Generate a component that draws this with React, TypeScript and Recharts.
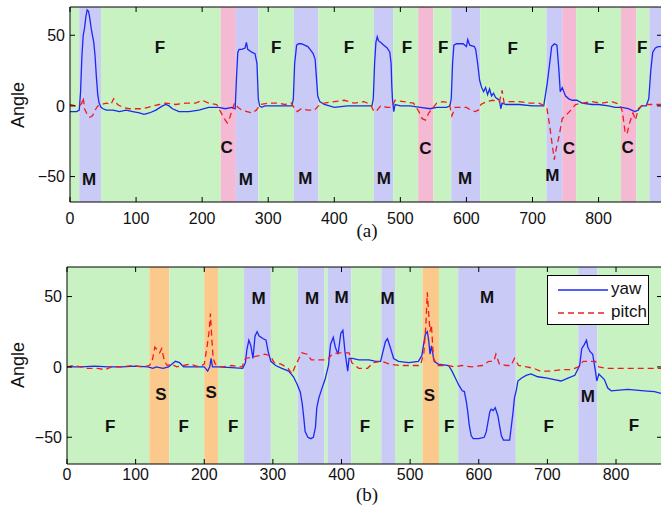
import React from 'react';
import { LineChart, Line, XAxis, YAxis, ReferenceArea, ReferenceDot } from 'recharts';

type Pt = [number, number];
type Band = [number, number, string];
type Tag = [number, number, string];

// ---- panel (a) ----
const topXMax = 896;
const topYDomain: [number, number] = [-68, 70];

const topBands: Band[] = [
  [0, 14, 'F'], [14, 47, 'M'], [47, 228, 'F'], [228, 251, 'C'], [251, 285, 'M'],
  [285, 339, 'F'], [339, 376, 'M'], [376, 460, 'F'], [460, 489, 'M'], [489, 527, 'F'],
  [527, 550, 'C'], [550, 577, 'F'], [577, 621, 'M'], [621, 721, 'F'], [721, 745, 'M'],
  [745, 766, 'C'], [766, 834, 'F'], [834, 857, 'C'], [857, 877, 'F'], [877, 896, 'M'],
];

const topTags: Tag[] = [
  [136, 42, 'F'], [29, -52, 'M'], [237, -29, 'C'], [266, -52, 'M'], [312, 42, 'F'],
  [356, -51, 'M'], [422, 42, 'F'], [475, -51, 'M'], [510, 42, 'F'], [538, -30, 'C'],
  [565, 42, 'F'], [598, -51, 'M'], [670, 41, 'F'], [730, -49, 'M'], [755, -30, 'C'],
  [801, 42, 'F'], [844, -29, 'C'], [866, 42, 'F'],
];

const topYaw: Pt[] = [
  [0, -4], [10, -4], [14, -3], [16, 10], [18, 35], [20, 50], [22, 55], [24, 63], [26, 68], [28, 67],
  [30, 62], [32, 55], [34, 50], [36, 45], [38, 35], [40, 20], [42, 8], [44, 2], [47, -1], [50, -2],
  [55, -3], [65, -3], [75, -4], [85, -3], [95, -4], [105, -5], [112, -6], [120, -5], [130, -3], [140, 0],
  [145, 1], [150, 0], [155, -2], [165, -4], [180, -4], [195, -3], [210, -1], [225, -1], [235, -2], [245, -1],
  [250, -2], [252, 20], [254, 38], [256, 40], [260, 40], [265, 41], [267, 45], [269, 40], [275, 38], [280, 37],
  [283, 30], [285, 5], [287, 0], [290, -1], [295, 0], [310, 0], [325, 0], [336, 0], [338, 5], [340, 30],
  [343, 43], [346, 44], [350, 44], [355, 43], [360, 42], [365, 39], [368, 37], [371, 33], [373, 20], [375, 7],
  [378, 3], [385, 1], [400, -1], [420, 0], [440, 0], [457, 0], [459, 5], [461, 30], [463, 45], [465, 49],
  [467, 46], [470, 45], [475, 43], [480, 41], [484, 38], [486, 30], [487, 15], [488, 5], [490, -4], [492, 1],
  [500, 0], [515, 0], [530, -1], [545, -2], [555, -1], [570, -1], [575, 0], [577, 5], [579, 30], [581, 43],
  [585, 44], [590, 44], [595, 44], [600, 42], [602, 47], [605, 43], [612, 42], [614, 40], [617, 30], [620, 18],
  [623, 13], [626, 10], [629, 13], [632, 8], [635, 12], [638, 7], [641, 9], [644, 6], [647, 5], [650, 4],
  [652, -2], [654, 2], [660, 1], [680, 1], [700, 0], [717, 0], [722, 15], [726, 30], [729, 42], [733, 44],
  [737, 43], [740, 25], [742, 10], [745, 13], [750, 7], [755, 5], [760, 4], [767, 4], [775, 2], [790, 1],
  [800, 1], [815, 0], [825, -1], [835, -1], [845, -2], [855, -4], [860, -3], [865, 0], [872, 0], [876, 5],
  [879, 25], [882, 38], [886, 41], [890, 42], [896, 42],
];

const topPitch: Pt[] = [
  [0, 1], [8, 0], [14, 0], [18, 2], [20, 6], [22, -2], [26, -6], [30, -8], [34, -7], [38, -3],
  [42, 0], [48, 1], [55, 2], [62, 1], [66, 5], [72, 1], [80, -1], [90, -2], [100, -2], [110, -2],
  [118, -1], [125, 0], [135, 1], [145, 2], [160, 1], [175, 2], [190, 2], [200, 4], [210, 2], [222, 1],
  [230, -6], [235, -10], [238, -12], [242, -8], [246, -2], [249, 2], [254, -1], [260, -3], [268, -4], [275, -5],
  [282, -3], [288, 1], [300, 2], [315, 2], [325, 1], [335, 2], [340, -2], [344, -4], [350, -2], [360, -3],
  [370, -3], [376, 0], [385, 2], [400, 3], [415, 4], [430, 2], [445, 3], [455, 1], [460, -4], [465, -3],
  [470, 0], [480, -1], [487, -1], [492, 4], [505, 3], [520, 2], [528, -4], [533, -9], [538, -10], [543, -5],
  [548, -2], [555, 2], [565, 3], [574, 2], [578, -7], [583, -1], [590, -1], [600, -1], [607, -3], [613, -4],
  [618, -3], [622, 1], [630, 3], [640, 4], [650, 3], [654, 11], [657, 2], [665, 3], [680, 3], [695, 2],
  [710, 2], [718, 0], [722, -2], [726, -14], [730, -28], [733, -38], [736, -30], [740, -22], [745, -9], [752, -6],
  [758, -3], [765, 1], [775, 2], [790, 3], [805, 2], [820, 3], [832, 1], [836, -4], [840, -18], [843, -20],
  [847, -12], [852, -5], [856, -10], [860, -2], [868, 1], [880, 1], [896, 1],
];

// ---- panel (b) ----
const botXMax = 867;
const botYDomain: [number, number] = [-69, 71];

const botBands: Band[] = [
  [0, 120, 'F'], [120, 149, 'S'], [149, 200, 'F'], [200, 220, 'S'], [220, 258, 'F'],
  [258, 297, 'M'], [297, 336, 'F'], [336, 375, 'M'], [375, 380, 'F'], [380, 414, 'M'],
  [414, 458, 'F'], [458, 478, 'M'], [478, 518, 'F'], [518, 542, 'S'], [542, 570, 'F'],
  [570, 654, 'M'], [654, 745, 'F'], [745, 773, 'M'], [773, 867, 'F'],
];

const botTags: Tag[] = [
  [279, 49, 'M'], [357, 49, 'M'], [400, 50, 'M'], [467, 49, 'M'], [612, 50, 'M'],
  [137, -19, 'S'], [210, -18, 'S'], [528, -20, 'S'], [759, -21, 'M'],
  [63, -42, 'F'], [170, -42, 'F'], [242, -42, 'F'], [434, -42, 'F'], [498, -42, 'F'],
  [557, -42, 'F'], [702, -42, 'F'], [826, -41, 'F'],
];

const botYaw: Pt[] = [
  [0, 0], [20, 0], [40, 0.5], [60, 0], [80, 0], [100, 0.5], [118, 0], [125, -1], [130, 0], [140, -1],
  [148, 0], [153, 2], [158, 4], [164, 3], [170, 0], [185, 0], [200, 0], [205, -3], [208, 0], [210, 6],
  [212, 0], [220, 0], [240, -0.5], [256, -1], [260, 3], [262, 12], [265, 19], [268, 15], [271, 6], [274, 22],
  [277, 25], [280, 22], [286, 20], [290, 19], [293, 11], [297, 4], [304, 1], [313, -1], [323, -3], [330, -7],
  [335, -12], [340, -18], [343, -27], [345, -36], [347, -46], [351, -50], [355, -51], [359, -50], [362, -43], [364, -29],
  [367, -22], [371, -16], [376, -9], [381, 1], [384, 16], [388, 21], [391, 14], [395, 9], [399, 24], [402, 26],
  [405, 11], [409, -3], [411, 6], [416, 6], [425, 5], [440, 5], [450, 4], [457, 4], [459, 8], [464, 18],
  [467, 20], [471, 14], [476, 6], [483, 4], [498, 3], [512, 4], [517, 8], [522, 23], [525, 25], [527, 19],
  [529, 9], [531, 15], [535, 4], [541, 2], [556, 1], [561, -3], [566, -8], [571, -13], [576, -17], [579, -17.5],
  [582, -25], [584, -32], [586, -41], [589, -49], [592, -51], [600, -51], [608, -50], [611, -46], [616, -32], [618, -30],
  [621, -31], [624, -29], [628, -35], [630, -41], [633, -49], [636, -52], [645, -52], [647, -44], [650, -32], [652, -22],
  [655, -16], [657, -10], [662, -8], [669, -6], [676, -5], [686, -7], [700, -8], [710, -9], [720, -10], [730, -8],
  [740, -6], [747, 1], [750, 13], [754, 16], [757, 19], [759, 14], [762, 11], [766, 9], [770, -3], [772, -10],
  [775, -5], [783, -9], [788, -15], [793, -17], [817, -16], [841, -17], [856, -17.5], [867, -19],
];

const botPitch: Pt[] = [
  [0, 0], [10, 1], [20, 0], [30, -1], [45, -1], [55, -2], [65, 0], [80, 0], [95, 1], [110, 0],
  [120, 1], [124, 4], [128, 14], [132, 12], [135, 10], [138, 13], [142, 4], [146, 1], [152, 2], [160, 0],
  [170, 1], [180, 2], [192, 0], [200, 2], [204, 14], [207, 25], [209, 38], [211, 20], [213, 6], [216, 2],
  [225, 0], [240, 1], [255, 0], [260, 6], [270, 7], [280, 8], [288, 9], [296, 8], [302, 3], [312, 2],
  [322, -1], [328, -5], [332, 0], [338, 6], [342, 10], [350, 9], [356, 5], [370, 5], [380, 5], [386, 9],
  [395, 10], [405, 10], [411, 10], [415, 3], [425, -1], [438, -1], [446, 3], [458, 4], [470, 2], [485, 1],
  [495, 1], [505, 1], [515, 1], [520, 10], [523, 30], [525, 53], [527, 38], [529, 25], [531, 30], [534, 6],
  [540, 1], [555, 1], [565, 0], [575, 1], [590, 0], [605, 1], [615, 4], [622, 4], [625, 9], [630, 2],
  [640, 1], [647, 1], [652, 6], [658, 1], [670, 0], [680, -1], [690, -3], [705, -3], [720, -2], [735, -2],
  [745, 0], [752, 4], [762, 4], [770, 4], [775, 0], [785, -1], [800, -1], [830, -1], [867, -1],
];

const xTicks = [0, 100, 200, 300, 400, 500, 600, 700, 800];
const yTicks = [-50, 0, 50];

const bandFill: Record<string, string> = {
  F: '#c9f2c3',
  M: '#cacaf6',
  C: '#f4b9d3',
  S: '#fbc98c',
};

const sans = '"Liberation Sans", Arial, Helvetica, sans-serif';
const yawColor = '#1a2af2';
const pitchColor = '#f01c1c';

const rows = (pts: Pt[]) => pts.map(([x, y]) => ({ x, y }));
const fmtY = (v: number) => (v < 0 ? '\u2212' + Math.abs(v) : String(v));

interface PanelProps {
  top: number;
  height: number;
  yAxisWidth: number;
  bottomMargin: number;
  tickGap: number;
  xMax: number;
  yDomain: [number, number];
  bands: Band[];
  tags: Tag[];
  yaw: Pt[];
  pitch: Pt[];
}

function Panel(p: PanelProps) {
  const tickFont = { fill: '#111', fontSize: 16, fontFamily: sans };
  return (
    <div style={{ position: 'absolute', left: 0, top: p.top }}>
      <LineChart
        width={680}
        height={p.height}
        margin={{ top: 6, right: 17, bottom: p.bottomMargin, left: 0 }}
      >
        <XAxis
          xAxisId="b"
          type="number"
          dataKey="x"
          domain={[0, p.xMax]}
          ticks={xTicks}
          interval={0}
          allowDataOverflow
          height={30}
          tickSize={-5}
          tickMargin={p.tickGap}
          tick={tickFont}
          stroke="#000"
        />
        <XAxis
          xAxisId="t"
          orientation="top"
          type="number"
          dataKey="x"
          domain={[0, p.xMax]}
          ticks={xTicks}
          interval={0}
          allowDataOverflow
          height={1}
          tickSize={-5}
          tickFormatter={() => ''}
          stroke="#000"
        />
        <YAxis
          yAxisId="l"
          type="number"
          domain={p.yDomain}
          ticks={yTicks}
          interval={0}
          allowDataOverflow
          width={p.yAxisWidth}
          tickSize={-5}
          tickMargin={10}
          tickFormatter={fmtY}
          tick={tickFont}
          stroke="#000"
        />
        <YAxis
          yAxisId="r"
          orientation="right"
          type="number"
          domain={p.yDomain}
          ticks={yTicks}
          interval={0}
          allowDataOverflow
          width={1}
          tickSize={-5}
          tickFormatter={() => ''}
          stroke="#000"
        />
        {p.bands.map(([x1, x2, kind], i) => (
          <ReferenceArea
            key={'band' + i}
            xAxisId="b"
            yAxisId="l"
            x1={x1}
            x2={x2}
            fill={bandFill[kind]}
            fillOpacity={1}
            stroke="none"
          />
        ))}
        <Line
          xAxisId="b"
          yAxisId="l"
          data={rows(p.yaw)}
          dataKey="y"
          type="linear"
          stroke={yawColor}
          strokeWidth={1.3}
          dot={false}
          isAnimationActive={false}
        />
        <Line
          xAxisId="b"
          yAxisId="l"
          data={rows(p.pitch)}
          dataKey="y"
          type="linear"
          stroke={pitchColor}
          strokeWidth={1.3}
          strokeDasharray="6 4"
          dot={false}
          isAnimationActive={false}
        />
        {p.tags.map(([x, y, text], i) => (
          <ReferenceDot
            key={'tag' + i}
            xAxisId="b"
            yAxisId="l"
            x={x}
            y={y}
            r={0}
            fill="none"
            stroke="none"
            label={{
              value: text,
              position: 'center',
              fill: '#111',
              fontSize: 17,
              fontWeight: 'bold',
              fontFamily: sans,
            }}
          />
        ))}
      </LineChart>
    </div>
  );
}

const yLabelStyle: React.CSSProperties = {
  position: 'absolute',
  transform: 'translate(-50%, -50%) rotate(-90deg)',
  fontFamily: sans,
  fontSize: 18,
  color: '#111',
  whiteSpace: 'nowrap',
};

const captionStyle: React.CSSProperties = {
  position: 'absolute',
  transform: 'translate(-50%, -50%)',
  fontFamily: '"Liberation Serif", "Times New Roman", serif',
  fontSize: 19,
  color: '#111',
};

export default function App() {
  return (
    <div
      style={{
        position: 'absolute',
        left: 0,
        top: 0,
        width: 661,
        height: 513,
        overflow: 'hidden',
        background: '#fff',
      }}
    >
      <Panel
        top={0}
        height={250}
        yAxisWidth={70}
        bottomMargin={18}
        tickGap={16}
        xMax={topXMax}
        yDomain={topYDomain}
        bands={topBands}
        tags={topTags}
        yaw={topYaw}
        pitch={topPitch}
      />
      <Panel
        top={260}
        height={253}
        yAxisWidth={67}
        bottomMargin={19}
        tickGap={10}
        xMax={botXMax}
        yDomain={botYDomain}
        bands={botBands}
        tags={botTags}
        yaw={botYaw}
        pitch={botPitch}
      />
      <div style={{ ...yLabelStyle, left: 18, top: 105 }}>Angle</div>
      <div style={{ ...yLabelStyle, left: 18, top: 365 }}>Angle</div>
      <div style={{ ...captionStyle, left: 367, top: 231 }}>(a)</div>
      <div style={{ ...captionStyle, left: 367, top: 495 }}>(b)</div>
      {/* legend of panel (b) */}
      <div
        style={{
          position: 'absolute',
          left: 547,
          top: 275,
          width: 100,
          height: 48,
          border: '1px solid #000',
          background: '#fff',
          fontFamily: sans,
          fontSize: 17,
          color: '#111',
        }}
      >
        <svg width={60} height={48} style={{ position: 'absolute', left: 0, top: 0 }}>
          <line x1={10} x2={60} y1={14} y2={14} stroke={yawColor} strokeWidth={1.3} />
          <line x1={10} x2={60} y1={37} y2={37} stroke={pitchColor} strokeWidth={1.3} strokeDasharray="6 4" />
        </svg>
        <div style={{ position: 'absolute', left: 63, top: 3, lineHeight: '20px' }}>yaw</div>
        <div style={{ position: 'absolute', left: 63, top: 26, lineHeight: '20px' }}>pitch</div>
      </div>
    </div>
  );
}
